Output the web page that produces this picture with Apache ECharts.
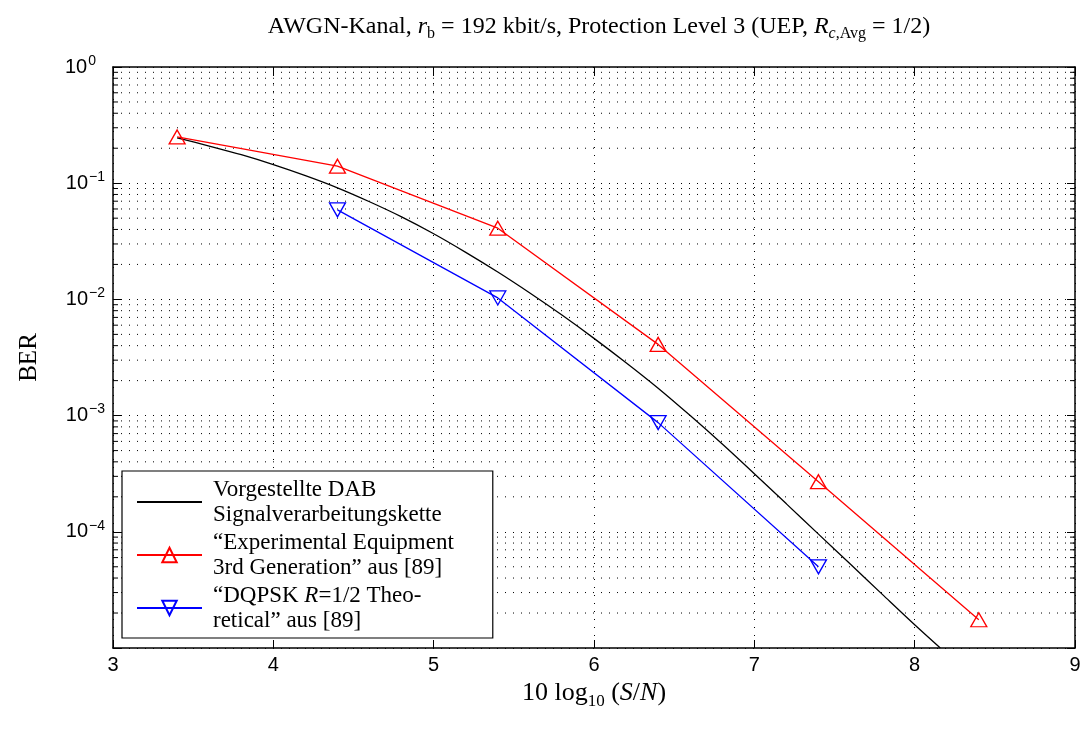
<!DOCTYPE html>
<html>
<head>
<meta charset="utf-8">
<script src="https://cdn.jsdelivr.net/npm/echarts@6/dist/echarts.min.js"></script>
<style>html,body{margin:0;padding:0;background:#fff}#c{width:1089px;height:742px}</style>
</head>
<body>
<div id="c"></div>
<script>
// ---- data ----
const snrDab = [3.4, 3.6, 3.8, 4.0, 4.2, 4.4, 4.6, 4.8, 5.0, 5.2, 5.4, 5.6, 5.8, 6.0, 6.2, 6.4, 6.6, 6.8, 7.0, 7.2, 7.4, 7.6, 7.8, 8.0, 8.16];
const berDab = [0.2455, 0.2089, 0.1758, 0.1445, 0.1161, 0.0912, 0.0692, 0.0513, 0.0367, 0.0254, 0.0172, 0.01135, 0.00733, 0.00462, 0.00285, 0.00172, 0.001, 5.69e-4, 3.16e-4, 1.74e-4, 9.55e-5, 5.25e-5, 2.88e-5, 1.585e-5, 1.0e-5];
const snrExp = [3.4, 4.4, 5.4, 6.4, 7.4, 8.4];
const berExp = [0.25, 0.14, 0.041, 0.0041, 2.7e-4, 1.75e-5];
const snrTheo = [4.4, 5.4, 6.4, 7.4];
const berTheo = [0.059, 0.0103, 8.7e-4, 5.0e-5];
const xTicks = [3, 4, 5, 6, 7, 8, 9];
const yDecades = [-5, -4, -3, -2, -1, 0];
const minorMult = [2, 3, 4, 5, 6, 7, 8, 9];

const minorVals = [];
yDecades.slice(0, -1).forEach(function (e) {
  minorMult.forEach(function (m) { minorVals.push([3, m * Math.pow(10, e)]); });
});
function zip(a, b) { return a.map(function (v, i) { return [v, b[i]]; }); }

const SERIF = '"Liberation Serif", "DejaVu Serif", serif';
const SANS = '"Liberation Sans", Arial, sans-serif';

const chart = echarts.init(document.getElementById('c'), null, {renderer: 'canvas'});
const legendNames = {
  dab: 'Vorgestellte DAB\nSignalverarbeitungskette',
  exp: '“Experimental Equipment\n3rd Generation” aus [89]',
  theo: '“DQPSK {i|R}=1/2 Theo-\nretical” aus [89]'
};
const axisCommon = {
  axisLine: {lineStyle: {color: '#000', width: 1.5}},
  axisTick: {inside: true, length: 8, lineStyle: {color: '#000', width: 1}}
};
chart.setOption({
  animation: false,
  backgroundColor: '#fff',
  grid: {left: 113, right: 14, top: 67, bottom: 94, containLabel: false, outerBoundsMode: 'none'},
  graphic: [{
    type: 'text', x: 599, y: 27, z: 10,
    style: {
      text: 'AWGN-Kanal, {i|r}{sub|b} = 192 kbit/s, Protection Level 3 (UEP, {i|R}{isub|c}{sub|,Avg} = 1/2)',
      align: 'center', verticalAlign: 'middle',
      font: '24px ' + SERIF, fill: '#000',
      rich: {
        i: {fontFamily: SERIF, fontSize: 24, fontStyle: 'italic', lineHeight: 30},
        sub: {fontFamily: SERIF, fontSize: 16, verticalAlign: 'bottom', lineHeight: 15},
        isub: {fontFamily: SERIF, fontSize: 16, fontStyle: 'italic', verticalAlign: 'bottom', lineHeight: 15}
      }
    }
  }],
  xAxis: [{
    type: 'value', min: 3, max: 9, interval: 1, position: 'bottom',
    name: '10 log{sub|10} ({i|S}/{i|N})', nameLocation: 'middle', nameGap: 29,
    nameTextStyle: {fontFamily: SERIF, fontSize: 26, color: '#000',
      rich: {sub: {fontFamily: SERIF, fontSize: 17, verticalAlign: 'bottom', padding: [16, 0, 0, 0]},
             i: {fontFamily: SERIF, fontSize: 26, fontStyle: 'italic'}}},
    axisLine: axisCommon.axisLine, axisTick: axisCommon.axisTick,
    axisLabel: {fontFamily: SANS, fontSize: 20, color: '#000', margin: 7},
    splitLine: {show: true, lineStyle: {color: '#000', type: [1, 7], width: 1}}
  }, {
    type: 'value', min: 3, max: 9, interval: 1, position: 'top',
    axisLine: axisCommon.axisLine, axisTick: axisCommon.axisTick,
    axisLabel: {show: false}, splitLine: {show: false}
  }],
  yAxis: [{
    type: 'log', logBase: 10, min: 1e-5, max: 1, splitNumber: 5, position: 'left',
    name: 'BER', nameLocation: 'middle', nameGap: 71, nameRotate: 90,
    nameTextStyle: {fontFamily: SERIF, fontSize: 25, color: '#000'},
    axisLine: axisCommon.axisLine, axisTick: axisCommon.axisTick,
    axisLabel: {
      margin: 8, color: '#000', fontFamily: SANS, fontSize: 20,
      formatter: function (v) {
        const e = Math.round(Math.log10(v));
        if (e === -5) return '';
        if (e === 0) return '10{sup0|0}';
        return '10{sup|\u2212' + (-e) + '}';
      },
      rich: {
        sup: {fontFamily: SANS, fontSize: 14, verticalAlign: 'top', padding: [0, 0, 12, 1]},
        sup0: {fontFamily: SANS, fontSize: 14, verticalAlign: 'top', padding: [0, 9, 12, 1]}
      }
    },
    splitLine: {show: true, lineStyle: {color: '#000', type: [1, 7], width: 1}}
  }, {
    type: 'log', logBase: 10, min: 1e-5, max: 1, splitNumber: 5, position: 'right',
    axisLine: axisCommon.axisLine, axisTick: axisCommon.axisTick,
    axisLabel: {show: false}, splitLine: {show: false}
  }],
  legend: {
    data: [{name: 'dab', itemStyle: {opacity: 0}}, 'exp', 'theo'],
    orient: 'vertical', left: 122, top: 471,
    backgroundColor: '#fff', borderColor: '#000', borderWidth: 1.2,
    padding: [6, 39, 5, 14], itemGap: 3, itemWidth: 65, itemHeight: 18,
    z: 20,
    formatter: function (n) { return legendNames[n]; },
    textStyle: {fontFamily: SERIF, fontSize: 23, lineHeight: 25, color: '#000', padding: [0, 0, 0, 6],
      rich: {i: {fontFamily: SERIF, fontSize: 23, fontStyle: 'italic', lineHeight: 25}}}
  },
  series: [{
    type: 'custom', name: 'minor', silent: true, z: 1,
    xAxisIndex: 0, yAxisIndex: 0, clip: false,
    data: minorVals,
    renderItem: function (params, api) {
      const v = api.value(1);
      const p0 = api.coord([3, v]);
      const p1 = api.coord([9, v]);
      return {type: 'group', children: [
        {type: 'line', shape: {x1: p0[0], y1: p0[1], x2: p1[0], y2: p1[1]}, style: {stroke: '#000', lineWidth: 1, lineDash: [1, 7]}},
        {type: 'line', shape: {x1: p0[0], y1: p0[1], x2: p0[0] + 5, y2: p0[1]}, style: {stroke: '#000', lineWidth: 1}},
        {type: 'line', shape: {x1: p1[0] - 5, y1: p1[1], x2: p1[0], y2: p1[1]}, style: {stroke: '#000', lineWidth: 1}}
      ]};
    }
  }, {
    type: 'line', name: 'dab', data: zip(snrDab, berDab), smooth: 0.3,
    symbol: 'none', z: 5,
    lineStyle: {color: '#000', width: 1.3}, itemStyle: {color: '#000'}
  }, {
    type: 'line', name: 'exp', data: zip(snrExp, berExp),
    symbol: 'triangle', symbolSize: [16, 14], showSymbol: true, z: 6,
    lineStyle: {color: '#ff0000', width: 1.3},
    itemStyle: {color: 'rgba(255,255,255,0)', borderColor: '#ff0000', borderWidth: 1.3}
  }, {
    type: 'line', name: 'theo', data: zip(snrTheo, berTheo),
    symbol: 'path://M0,0 L16,0 L8,14 Z', symbolSize: [16, 14], showSymbol: true, z: 6,
    lineStyle: {color: '#0000ff', width: 1.3},
    itemStyle: {color: 'rgba(255,255,255,0)', borderColor: '#0000ff', borderWidth: 1.3}
  }]
});
</script>
</body>
</html>
